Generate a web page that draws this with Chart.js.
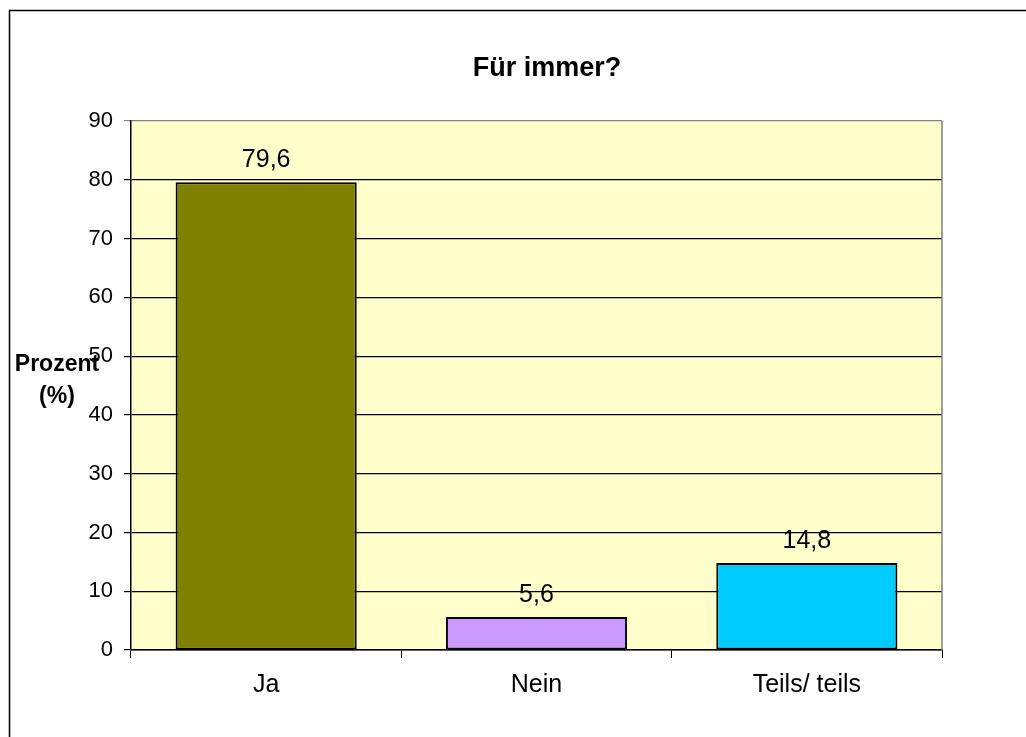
<!DOCTYPE html>
<html>
<head>
<meta charset="utf-8">
<script src="https://cdn.jsdelivr.net/npm/chart.js@4/dist/chart.umd.min.js"></script>
<style>
  body { margin: 0; background: #fff; }
  #wrap { width: 1026px; height: 737px; }
</style>
</head>
<body>
<div id="wrap"><canvas id="chart" width="1026" height="737"></canvas></div>
<script>
const categories = ["Ja", "Nein", "Teils/ teils"];
const values = [79.6, 5.6, 14.8];
const barColors = ["#808000", "#CC99FF", "#00CCFF"];
const titleText = "Für immer?";
const yTitle = ["Prozent", "(%)"];

const FONT = "'Liberation Sans', Arial, sans-serif";

// plot background, outer frame, titles
const backdrop = {
  id: "backdrop",
  beforeDraw(chart) {
    const ctx = chart.ctx;
    const a = chart.chartArea;
    ctx.save();
    ctx.fillStyle = "#fff";
    ctx.fillRect(0, 0, chart.width, chart.height);
    ctx.strokeStyle = "#000";
    ctx.lineWidth = 1.5;
    ctx.beginPath();
    ctx.moveTo(9.5, chart.height + 5);
    ctx.lineTo(9.5, 10.5);
    ctx.lineTo(chart.width + 5, 10.5);
    ctx.stroke();
    ctx.fillStyle = "#FFFFCC";
    ctx.fillRect(a.left, a.top, a.right - a.left, a.bottom - a.top);
    ctx.restore();
  },
  beforeDatasetsDraw(chart) {
    const ctx = chart.ctx;
    const a = chart.chartArea;
    ctx.save();
    ctx.strokeStyle = "#808080";
    ctx.lineWidth = 1.5;
    ctx.beginPath();
    ctx.moveTo(a.right, a.top);
    ctx.lineTo(a.right, a.bottom);
    ctx.stroke();
    ctx.restore();
  },
  afterDraw(chart) {
    const ctx = chart.ctx;
    ctx.save();
    ctx.fillStyle = "#000";
    ctx.textAlign = "center";
    ctx.textBaseline = "middle";
    ctx.font = "bold 27px " + FONT;
    ctx.fillText(titleText, 547, 69);
    ctx.font = "bold 23px " + FONT;
    ctx.fillText(yTitle[0], 57, 365);
    ctx.fillText(yTitle[1], 57, 397);
    ctx.restore();
  }
};

// value labels above the bars
const valueLabels = {
  id: "valueLabels",
  afterDatasetsDraw(chart) {
    const ctx = chart.ctx;
    const meta = chart.getDatasetMeta(0);
    ctx.save();
    ctx.fillStyle = "#000";
    ctx.font = "25px " + FONT;
    ctx.textAlign = "center";
    ctx.textBaseline = "alphabetic";
    meta.data.forEach((bar, i) => {
      ctx.fillText(values[i].toFixed(1).replace(".", ","), bar.x, bar.y - 15);
    });
    ctx.restore();
  }
};

new Chart(document.getElementById("chart"), {
  type: "bar",
  data: {
    labels: categories,
    datasets: [{
      data: values,
      backgroundColor: barColors,
      borderColor: "#000",
      borderWidth: 2,
      borderSkipped: false,
      categoryPercentage: 1,
      barPercentage: 0.67
    }]
  },
  options: {
    responsive: false,
    animation: false,
    layout: { padding: { left: 0, right: 84, top: 121, bottom: 0 } },
    plugins: {
      legend: { display: false },
      tooltip: { enabled: false },
      title: { display: false }
    },
    scales: {
      x: {
        afterFit(scale) { scale.height = 87; },
        grid: {
          offset: true,
          drawOnChartArea: false,
          drawTicks: true,
          tickLength: 8,
          color: "#000"
        },
        border: { color: "#000", width: 1.5 },
        ticks: {
          color: "#000",
          padding: 12,
          font: { family: FONT, size: 25 }
        }
      },
      y: {
        min: 0,
        max: 90,
        afterFit(scale) { scale.width = 131; },
        grid: {
          color: (c) => (c.tick && c.tick.value === 90 ? "#808080" : "#000"),
          lineWidth: 1.2,
          tickLength: 7
        },
        border: { color: "#000", width: 1.5 },
        ticks: {
          stepSize: 10,
          color: "#000",
          padding: 11,
          font: { family: FONT, size: 22 }
        }
      }
    }
  },
  plugins: [backdrop, valueLabels]
});
</script>
</body>
</html>
